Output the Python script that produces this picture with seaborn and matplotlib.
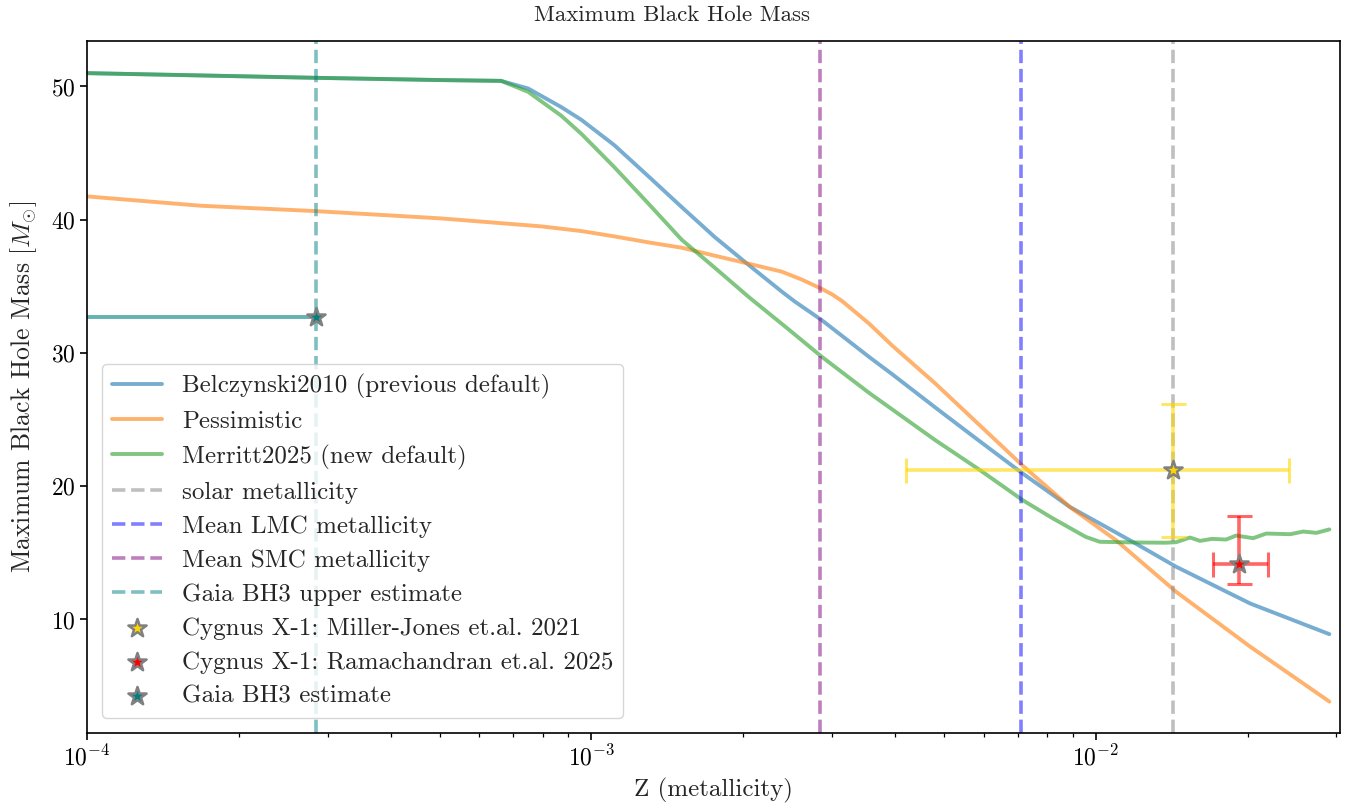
import numpy as np
import pandas as pd
import matplotlib
matplotlib.use("Agg")
import matplotlib.pyplot as plt
import seaborn as sns

# ---------------- data ----------------
belc_z = [1.0e-4, 1.68e-4, 2.83e-4, 5.03e-4, 6.62e-4, 7.49e-4, 8.717e-4, 9.55e-4, 1.11e-3,
          1.298e-3, 1.51e-3, 1.756e-3, 2.051e-3, 2.386e-3, 2.533e-3, 2.866e-3, 3.554e-3,
          3.95e-3, 4.81e-3, 5.69e-3, 7.16e-3, 8.88e-3, 1.019e-2, 1.2e-2, 1.443e-2,
          2.024e-2, 2.905e-2]
belc_m = [51.0, 50.83, 50.65, 50.48, 50.42, 49.85, 48.45, 47.5, 45.6,
          43.25, 40.95, 38.7, 36.6, 34.6, 33.85, 32.45, 29.7,
          28.4, 25.9, 23.8, 20.96, 18.45, 17.2, 15.7, 13.96,
          11.2, 8.9]

pess_z = [1.0e-4, 1.68e-4, 2.83e-4, 5.03e-4, 7.96e-4, 9.55e-4, 1.11e-3, 1.298e-3,
          1.51e-3, 1.756e-3, 2.051e-3, 2.386e-3, 2.616e-3, 2.866e-3, 3.0e-3, 3.14e-3,
          3.554e-3, 3.95e-3, 4.81e-3, 7.16e-3, 8.88e-3, 1.096e-2, 1.443e-2, 2.024e-2,
          2.905e-2]
pess_m = [41.75, 41.05, 40.65, 40.1, 39.5, 39.15, 38.75, 38.3,
          37.9, 37.3, 36.7, 36.1, 35.5, 34.8, 34.4, 33.9,
          32.2, 30.55, 27.7, 21.55, 18.45, 15.96, 12.08, 7.96,
          3.84]

merr_z = [1.0e-4, 2.83e-4, 5.03e-4, 6.62e-4, 7.49e-4, 8.717e-4, 9.55e-4, 1.11e-3,
          1.298e-3, 1.51e-3, 1.756e-3, 2.051e-3, 2.464e-3, 2.866e-3, 3.554e-3, 4.81e-3,
          5.9e-3, 7.16e-3, 8.21e-3, 9.55e-3, 1.019e-2, 1.2e-2, 1.377e-2, 1.443e-2,
          1.538e-2, 1.61e-2, 1.70e-2, 1.813e-2, 1.898e-2, 2.051e-2, 2.178e-2, 2.43e-2,
          2.579e-2, 2.738e-2, 2.905e-2]
merr_m = [51.0, 50.65, 50.48, 50.42, 49.6, 47.8, 46.45, 43.95,
          41.2, 38.5, 36.4, 34.2, 31.75, 29.7, 27.0, 23.45,
          21.2, 18.96, 17.6, 16.2, 15.83, 15.78, 15.76, 15.8,
          16.15, 15.9, 16.05, 16.0, 16.3, 16.1, 16.45, 16.4,
          16.6, 16.5, 16.76]

ref_z = [0.0142, 0.0071, 0.00284, 2.84e-4]
ref_labels = ["solar metallicity", "Mean LMC metallicity", "Mean SMC metallicity",
              "Gaia BH3 upper estimate"]
ref_colors = ["grey", "blue", "purple", "teal"]

cyg_mj_z, cyg_mj_m = [0.0142], [21.2]
cyg_mj_zerr, cyg_mj_merr = [0.01], [5.0]

cyg_r_z, cyg_r_m = [0.0192], [14.2]
cyg_r_zerr_lo, cyg_r_zerr_hi = [0.0021], [0.0028]
cyg_r_merr_lo, cyg_r_merr_hi = [1.5], [3.6]

gaia_z, gaia_m = [2.84e-4], [32.7]

z_min, z_max = 1e-4, 0.0305
m_min, m_max = 1.5, 53.4
y_ticks = [10, 20, 30, 40, 50]

# ---------------- style ----------------
sns.set_style("ticks")
plt.rcParams["font.family"] = ["cmr10", "DejaVu Serif"]
plt.rcParams["mathtext.fontset"] = "cm"
plt.rcParams["axes.formatter.use_mathtext"] = True
plt.rcParams["axes.edgecolor"] = "black"
plt.rcParams["xtick.color"] = "black"
plt.rcParams["ytick.color"] = "black"
plt.rcParams["axes.linewidth"] = 1.2

fig, ax = plt.subplots(figsize=(13.45, 8.07), dpi=100)
fig.subplots_adjust(left=0.0647, right=0.9963, top=0.949, bottom=0.092)

ax.set_xscale("log")

df_b = pd.DataFrame({"Z": belc_z, "M": belc_m})
df_p = pd.DataFrame({"Z": pess_z, "M": pess_m})
df_m = pd.DataFrame({"Z": merr_z, "M": merr_m})

sns.lineplot(data=df_b, x="Z", y="M", ax=ax, color="tab:blue", alpha=0.6, lw=2.8,
             label="Belczynski2010 (previous default)")
sns.lineplot(data=df_p, x="Z", y="M", ax=ax, color="tab:orange", alpha=0.6, lw=2.8,
             label="Pessimistic")
sns.lineplot(data=df_m, x="Z", y="M", ax=ax, color="tab:green", alpha=0.6, lw=2.8,
             label="Merritt2025 (new default)")

for z, lab, c in zip(ref_z, ref_labels, ref_colors):
    ax.axvline(z, color=c, alpha=0.5, ls="--", lw=2.6, label=lab)

# error bars
ax.errorbar(cyg_mj_z, cyg_mj_m, xerr=cyg_mj_zerr, yerr=cyg_mj_merr, fmt="none",
            ecolor="gold", alpha=0.6, elinewidth=2.6, capsize=9, capthick=2.2)
ax.errorbar(cyg_r_z, cyg_r_m, xerr=[cyg_r_zerr_lo, cyg_r_zerr_hi],
            yerr=[cyg_r_merr_lo, cyg_r_merr_hi], fmt="none",
            ecolor="red", alpha=0.6, elinewidth=2.6, capsize=9, capthick=2.2)
ax.hlines(gaia_m, xmin=z_min, xmax=gaia_z, color="teal", alpha=0.6, lw=2.8)

star_kw = dict(marker="*", s=190, edgecolor="grey", linewidth=1.8, zorder=5)
ax.scatter(cyg_mj_z, cyg_mj_m, color="gold", label="Cygnus X-1: Miller-Jones et.al. 2021", **star_kw)
ax.scatter(cyg_r_z, cyg_r_m, color="red", label="Cygnus X-1: Ramachandran et.al. 2025", **star_kw)
ax.scatter(gaia_z, gaia_m, color="teal", label="Gaia BH3 estimate", **star_kw)

ax.set_xlim(z_min, z_max)
ax.set_ylim(m_min, m_max)
ax.set_yticks(y_ticks)
ax.tick_params(axis="both", which="major", labelsize=17, length=5, width=1.2, direction="out")
ax.tick_params(axis="x", which="minor", length=3, width=0.9)

ax.set_xlabel("Z (metallicity)", fontsize=18, labelpad=6)
ax.set_ylabel(r"Maximum Black Hole Mass [$M_{\odot}$]", fontsize=18.5, labelpad=8)
fig.text(0.5, 1 - 21 / 807, "Maximum Black Hole Mass", fontsize=16.5,
         ha="center", va="baseline")

leg = ax.legend(loc="lower left", fontsize=18, framealpha=0.8, labelspacing=0.46,
                handlelength=2.0, borderaxespad=0.6)

fig.savefig("out.png", dpi=100)
